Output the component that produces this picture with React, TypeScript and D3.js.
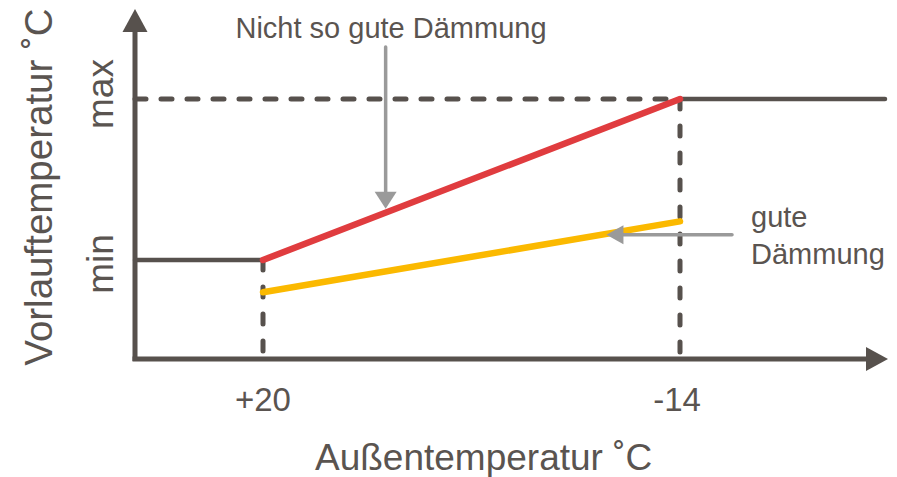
import React from "react";
import * as d3 from "d3";

// Outdoor temperature (°C) positions of the two breakpoints
const outdoorTemps = [20, -14];
const outdoorTickLabels = ["+20", "-14"];
// Flow temperature levels (0 = min, 1 = max)
const levelValues = [0, 1];
const levelLabels = ["min", "max"];
// Heating curves at the breakpoints
const poorInsulation = [0, 1];
const goodInsulation = [-0.2, 0.24];
// Annotations
const poorLabel = "Nicht so gute Dämmung";
const goodLabel = ["gute", "Dämmung"];
const xTitle = "Außentemperatur ˚C";
const yTitle = "Vorlauftemperatur ˚C";

const W = 897;
const H = 477;
const DARK = "#57514d";
const TEXT = "#5a5450";
const GREY = "#9a9a9a";
const RED = "#e03c3f";
const YELLOW = "#fbb900";
const FONT = "'Liberation Sans', Arial, sans-serif";

export default function App() {
  const x = d3.scaleLinear().domain([20, -14]).range([263, 680]);
  const y = d3.scaleLinear().domain([0, 1]).range([260, 99]);

  const x0 = 135; // y-axis position
  const xEnd = 888;
  const yAxis = 359;
  const yTop = 9;

  const line = d3
    .line<[number, number]>()
    .x((d) => x(d[0]))
    .y((d) => y(d[1]));

  const poorPts: [number, number][] = outdoorTemps.map((t, i) => [t, poorInsulation[i]]);
  const goodPts: [number, number][] = outdoorTemps.map((t, i) => [t, goodInsulation[i]]);

  // annotation arrows
  const vArrowT = 10;
  const vArrowX = x(vArrowT);
  const redAt = (t: number) => y(d3.scaleLinear().domain(outdoorTemps).range(poorInsulation)(t));
  const yelAt = (t: number) => y(d3.scaleLinear().domain(outdoorTemps).range(goodInsulation)(t));
  const vTip = redAt(vArrowT) - 4;
  const hArrowT = -8;
  const hTip = x(hArrowT);
  const hY = yelAt(hArrowT) + 1;

  return (
    <svg
      width={W}
      height={H}
      viewBox={`0 0 ${W} ${H}`}
      style={{ position: "absolute", left: 0, top: 0, display: "block", background: "#fff" }}
      fontFamily={FONT}
    >
      {/* dashed guide lines */}
      <line x1={x0} x2={x(outdoorTemps[1])} y1={y(1)} y2={y(1)} stroke={DARK} strokeWidth={5} strokeDasharray="11 15" strokeLinecap="round" />
      <line x1={x(outdoorTemps[0])} x2={x(outdoorTemps[0])} y1={y(0)} y2={yAxis + 4} stroke={DARK} strokeWidth={5} strokeDasharray="10 17" strokeLinecap="round" />
      <line x1={x(outdoorTemps[1])} x2={x(outdoorTemps[1])} y1={y(1)} y2={yAxis + 4} stroke={DARK} strokeWidth={5} strokeDasharray="10 17" strokeLinecap="round" />

      {/* flat parts */}
      <line x1={x0} x2={x(outdoorTemps[0])} y1={y(0)} y2={y(0)} stroke={DARK} strokeWidth={4.5} strokeLinecap="round" />
      <line x1={x(outdoorTemps[1])} x2={xEnd - 3} y1={y(1)} y2={y(1)} stroke={DARK} strokeWidth={4.5} strokeLinecap="round" />

      {/* curves */}
      <path d={line(goodPts) ?? ""} fill="none" stroke={YELLOW} strokeWidth={6.5} strokeLinecap="round" />
      <path d={line(poorPts) ?? ""} fill="none" stroke={RED} strokeWidth={6.5} strokeLinecap="round" />

      {/* axes */}
      <line x1={x0} x2={x0} y1={yAxis + 2} y2={yTop + 20} stroke={DARK} strokeWidth={5} />
      <path d={`M${x0},${yTop} L${x0 - 12.5},${yTop + 23} L${x0 + 12.5},${yTop + 23} Z`} fill={DARK} />
      <line x1={x0 - 2.5} x2={xEnd - 20} y1={yAxis} y2={yAxis} stroke={DARK} strokeWidth={5} />
      <path d={`M${xEnd},${yAxis} L${xEnd - 22},${yAxis - 12} L${xEnd - 22},${yAxis + 12} Z`} fill={DARK} />

      {/* annotation arrows */}
      <line x1={vArrowX} x2={vArrowX} y1={47} y2={vTip - 14} stroke={GREY} strokeWidth={3.5} strokeLinecap="round" />
      <path d={`M${vArrowX},${vTip} L${vArrowX - 11},${vTip - 17} L${vArrowX + 11},${vTip - 17} Z`} fill={GREY} />
      <line x1={732} x2={hTip + 14} y1={hY} y2={hY} stroke={GREY} strokeWidth={3.5} strokeLinecap="round" />
      <path d={`M${hTip},${hY} L${hTip + 17},${hY - 9.5} L${hTip + 17},${hY + 9.5} Z`} fill={GREY} />

      {/* texts */}
      <text x={391} y={38} fontSize={29} fill={TEXT} textAnchor="middle">{poorLabel}</text>
      <text x={751} y={227} fontSize={29} fill={TEXT}>{goodLabel[0]}</text>
      <text x={751} y={264} fontSize={29} fill={TEXT}>{goodLabel[1]}</text>

      {outdoorTemps.map((t, i) => (
        <text key={i} x={x(t) - (i === 1 ? 3 : 0)} y={411} fontSize={33} fill={TEXT} textAnchor="middle">
          {outdoorTickLabels[i]}
        </text>
      ))}
      <text x={315} y={470} fontSize={37} fill={TEXT}>{xTitle}</text>

      {levelValues.map((v, i) => (
        <text
          key={i}
          transform={`translate(113,${y(v) + (i === 0 ? 4 : -5)}) rotate(-90)`}
          fontSize={37}
          fill={TEXT}
          textAnchor="middle"
        >
          {levelLabels[i]}
        </text>
      ))}
      <text transform={`translate(52,187) rotate(-90)`} fontSize={38.5} fill={TEXT} textAnchor="middle">
        {yTitle}
      </text>
    </svg>
  );
}
